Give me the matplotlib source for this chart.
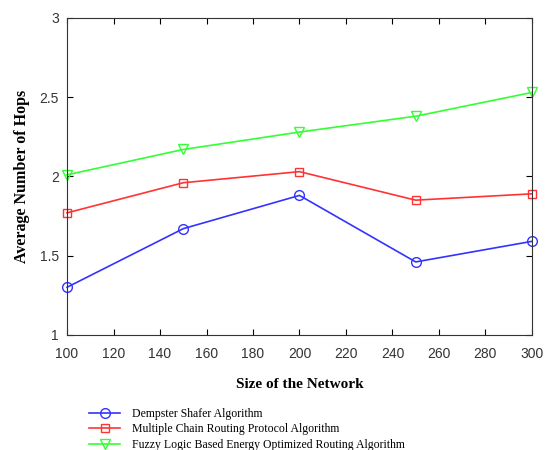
import numpy as np
import matplotlib.pyplot as plt

sizes = [100, 150, 200, 250, 300]
dempster = [1.30, 1.67, 1.88, 1.46, 1.59]
multichain = [1.77, 1.96, 2.03, 1.85, 1.89]
fuzzy = [2.01, 2.17, 2.28, 2.38, 2.53]

fig = plt.figure(figsize=(5.45, 4.5), dpi=100)
ax = fig.add_axes([0.123, 0.256, 0.853, 0.704])

ax.plot(sizes, dempster, color='#3333ff', marker='o', mfc='none', ms=7, lw=1.2,
        clip_on=False, label='Dempster Shafer Algorithm')
ax.plot(sizes, multichain, color='#ff3333', marker='s', mfc='none', ms=6, lw=1.2,
        clip_on=False, label='Multiple Chain Routing Protocol Algorithm')
ax.plot(sizes, fuzzy, color='#33ff33', marker='v', mfc='none', ms=7, lw=1.2,
        clip_on=False, label='Fuzzy Logic Based Energy Optimized Routing Algorithm')

ax.set_xlim(100, 300)
ax.set_ylim(1, 3)
ax.set_xticks(np.arange(100, 301, 20))
ax.set_yticks([1, 1.5, 2, 2.5, 3])
ax.set_yticklabels(['1', '1.5', '2', '2.5', '3'])
ax.tick_params(direction='in', top=True, right=True, length=4, labelsize=10,
               labelcolor='#333333')
ax.tick_params(axis='x', pad=9)
ax.tick_params(axis='y', pad=6)
for lab in ax.get_xticklabels() + ax.get_yticklabels():
    lab.set_family('Liberation Sans')
for s in ax.spines.values():
    s.set_color('#333333')

ax.set_xlabel('Size of the Network', family='Liberation Serif', fontweight='bold',
              fontsize=11, labelpad=12)
ax.set_ylabel('Average Number of Hops', family='Liberation Serif', fontweight='bold',
              fontsize=11.5, labelpad=7)

fig.legend(loc='upper left', bbox_to_anchor=(0.155, 0.104), frameon=False,
           prop={'family': 'Liberation Serif', 'size': 8.5}, handlelength=2.6,
           handletextpad=1.0, labelspacing=0.3, borderaxespad=0)

fig.savefig('out.png', dpi=100)
